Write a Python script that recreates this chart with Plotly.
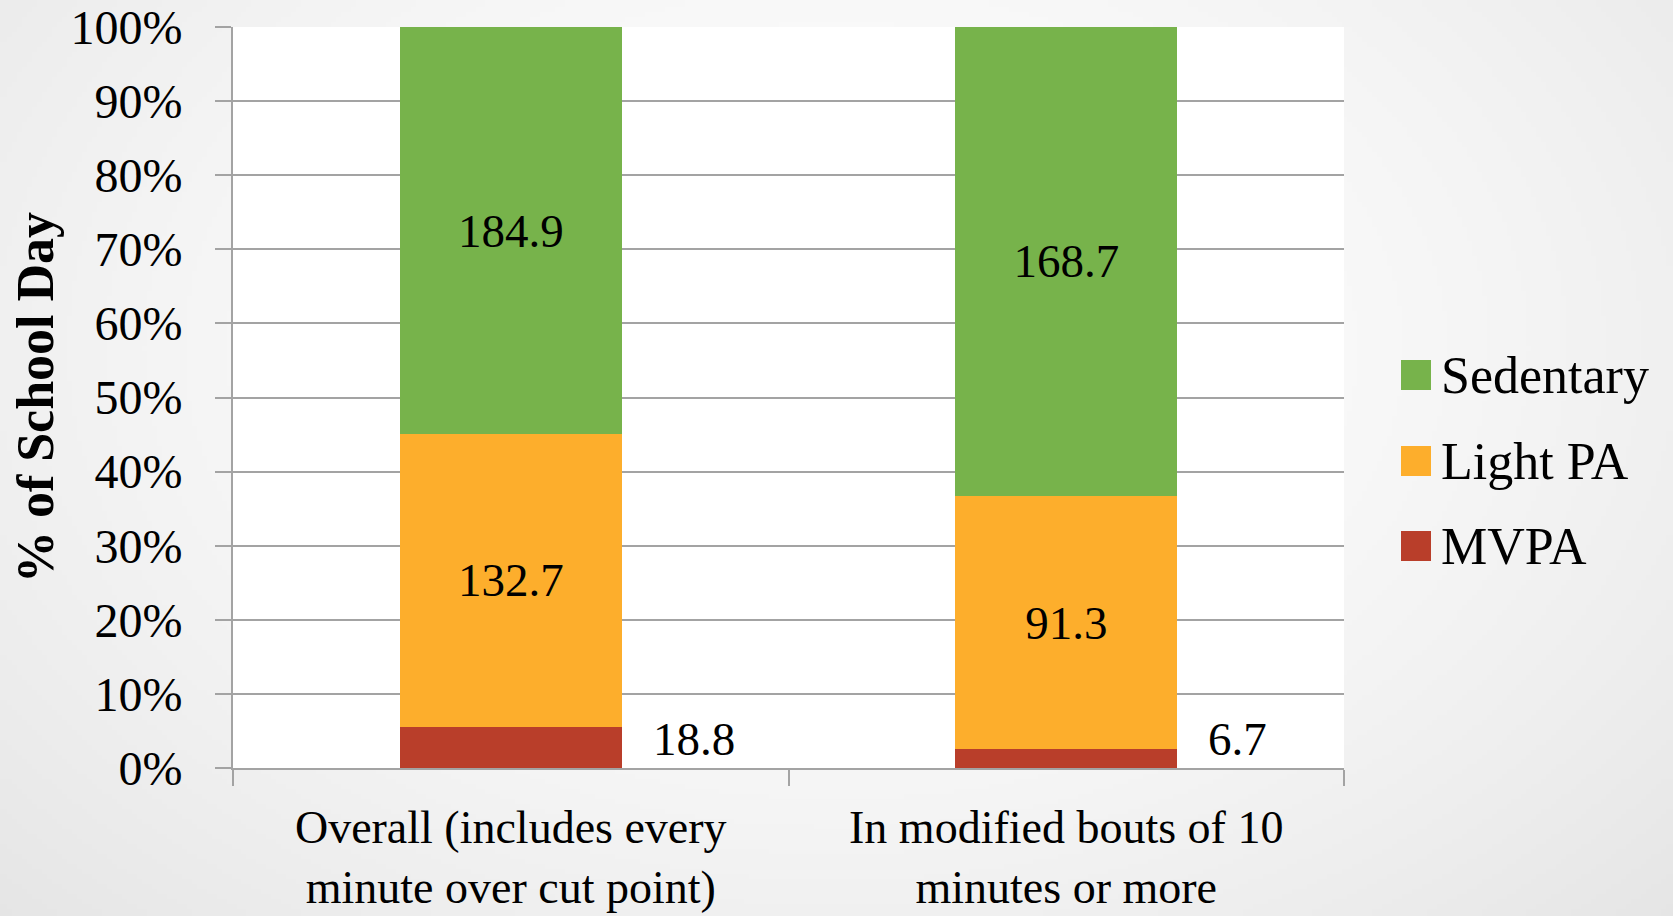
import base64
import struct
import zlib

import numpy as np
import plotly.graph_objects as go

# ---- data -------------------------------------------------------------
categories = [
    "Overall (includes every<br>minute over cut point)",
    "In modified bouts of 10<br>minutes or more",
]
series_names = ["MVPA", "Light PA", "Sedentary"]
mvpa = [18.8, 6.7]
light_pa = [132.7, 91.3]
sedentary = [184.9, 168.7]
y_ticks = [0, 10, 20, 30, 40, 50, 60, 70, 80, 90, 100]
y_title = "% of School Day"

series_values = [mvpa, light_pa, sedentary]
series_colors = ["#B93E2A", "#FDAE2C", "#77B34B"]

FONT = "Liberation Serif"
GRID = "#A3A3A3"

W, H = 1673, 916
M_L, M_R, M_T, M_B = 233, 329, 27, 148
plot_w = W - M_L - M_R
plot_h = H - M_T - M_B


def gradient_png(w, h):
    """Soft grey vignette used as the slide background."""
    yy, xx = np.mgrid[0:h, 0:w]
    nx = (xx / (w - 1) - 0.5) * 1.9
    ny = (yy / (h - 1) - 0.38) * 1.5
    d = np.clip(np.sqrt(nx ** 2 + ny ** 2), 0, 1.4)
    v = 255 - 16 * d ** 1.6
    img = np.clip(v, 0, 255).astype(np.uint8)
    raw = b"".join(b"\x00" + img[r].tobytes() for r in range(h))

    def chunk(tag, data):
        c = struct.pack(">I", len(data)) + tag + data
        return c + struct.pack(">I", zlib.crc32(tag + data) & 0xFFFFFFFF)

    png = b"\x89PNG\r\n\x1a\n"
    png += chunk(b"IHDR", struct.pack(">IIBBBBB", w, h, 8, 0, 0, 0, 0))
    png += chunk(b"IDAT", zlib.compress(raw, 9))
    png += chunk(b"IEND", b"")
    return "data:image/png;base64," + base64.b64encode(png).decode()


fig = go.Figure()

for name, vals, color in zip(series_names, series_values, series_colors):
    show_inside = name != "MVPA"
    fig.add_trace(
        go.Bar(
            name=name,
            x=categories,
            y=vals,
            marker=dict(color=color, line=dict(width=0)),
            text=[f"{v}" for v in vals] if show_inside else None,
            textposition="inside" if show_inside else "none",
            insidetextanchor="middle",
            textangle=0,
            textfont=dict(family=FONT, size=47, color="black"),
            showlegend=False,
            hoverinfo="name+y",
        )
    )

# MVPA values sit just to the right of their thin segments
for cat, v in zip(categories, mvpa):
    fig.add_annotation(
        x=cat, y=0, xref="x", yref="y",
        text=f"{v}", showarrow=False,
        xanchor="left", yanchor="bottom",
        xshift=140, yshift=1,
        font=dict(family=FONT, size=47, color="black"),
    )

# legend: coloured squares with series names
px_x = lambda p: (p - M_L) / plot_w
px_y = lambda p: (H - M_B - p) / plot_h
legend_rows = [375, 461, 546]
for row_y, name, color in zip(legend_rows, series_names[::-1], series_colors[::-1]):
    fig.add_shape(
        type="rect", xref="paper", yref="paper",
        x0=px_x(1401), x1=px_x(1431),
        y0=px_y(row_y + 15), y1=px_y(row_y - 15),
        fillcolor=color, line=dict(width=0), layer="above",
    )
    fig.add_annotation(
        x=px_x(1439), y=px_y(row_y), xref="paper", yref="paper",
        text=name, showarrow=False, xanchor="left", yanchor="middle",
        font=dict(family=FONT, size=52, color="black"),
    )

# white plotting area over the vignette
fig.add_shape(
    type="rect", xref="paper", yref="paper", x0=0, x1=1, y0=0, y1=1,
    fillcolor="white", line=dict(width=0), layer="below",
)

fig.add_layout_image(
    source=gradient_png(336, 184),
    xref="paper", yref="paper",
    x=px_x(0), y=px_y(0),
    sizex=W / plot_w, sizey=H / plot_h,
    xanchor="left", yanchor="top",
    sizing="stretch", layer="below",
)

fig.update_layout(
    width=W,
    height=H,
    margin=dict(l=M_L, r=M_R, t=M_T, b=M_B, autoexpand=False),
    barmode="stack",
    barnorm="percent",
    bargap=0.6,
    paper_bgcolor="white",
    plot_bgcolor="rgba(0,0,0,0)",
    font=dict(family=FONT, color="black"),
    showlegend=False,
    uniformtext=dict(mode="show", minsize=10),
)

fig.update_xaxes(
    type="category",
    tickson="boundaries",
    ticks="outside",
    ticklen=16,
    tickwidth=2,
    tickcolor=GRID,
    showline=True,
    linecolor=GRID,
    linewidth=2,
    showgrid=False,
    tickfont=dict(family=FONT, size=46, color="black"),
    ticklabelstandoff=18,
    automargin=False,
)

fig.update_yaxes(
    range=[0, 100],
    tickvals=y_ticks,
    ticktext=[f"{t}%" for t in y_ticks],
    ticks="outside",
    ticklen=16,
    tickwidth=2,
    tickcolor=GRID,
    showline=True,
    linecolor=GRID,
    linewidth=2,
    showgrid=True,
    gridcolor=GRID,
    gridwidth=2,
    zeroline=False,
    tickfont=dict(family=FONT, size=48, color="black"),
    ticklabelstandoff=23,
    title=dict(
        text=f"<b>{y_title}</b>",
        font=dict(family=FONT, size=52, color="black"),
        standoff=0,
    ),
    automargin=False,
)

fig.write_html("out.html")
